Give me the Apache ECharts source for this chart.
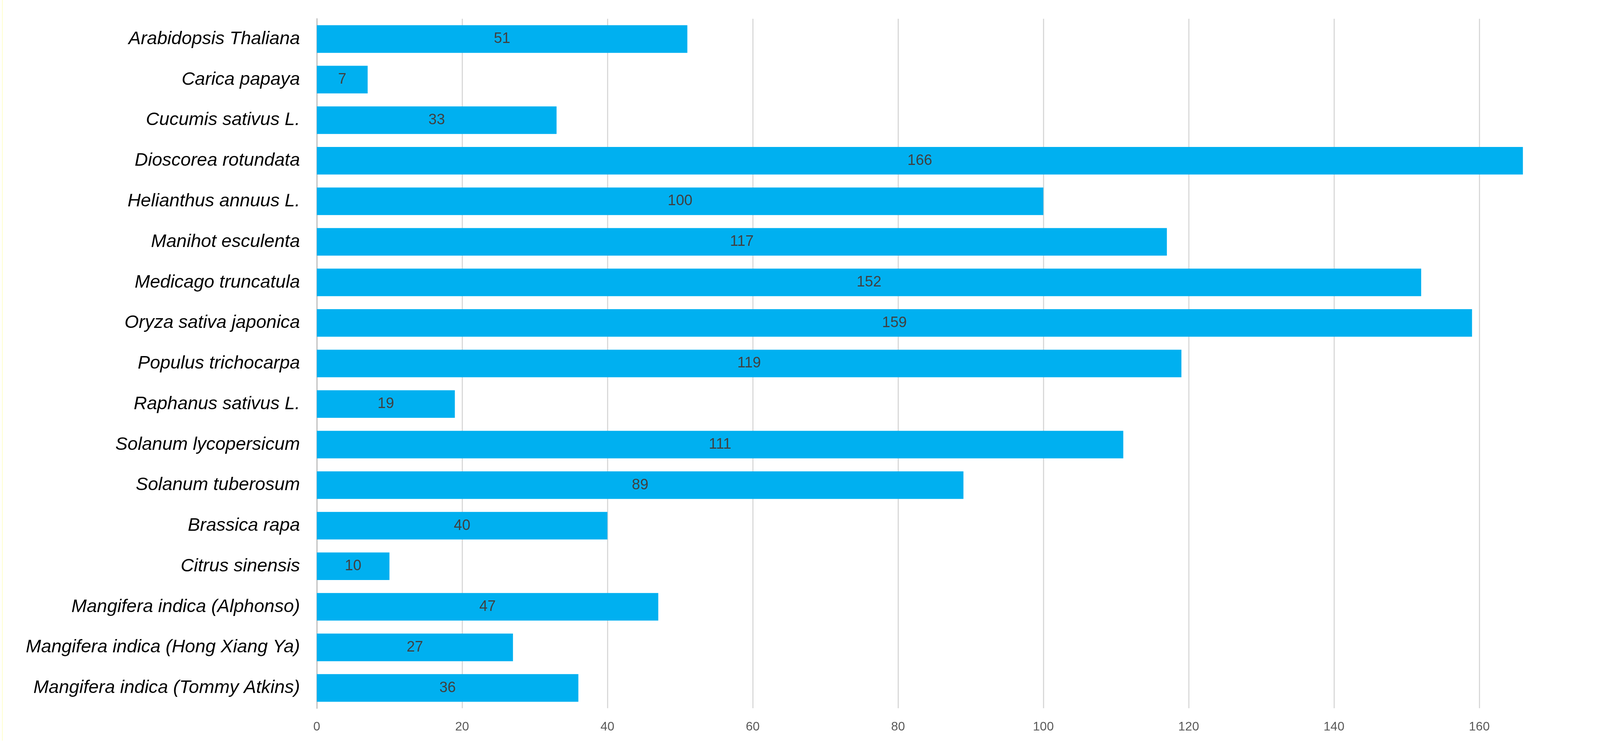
<!DOCTYPE html>
<html>
<head>
<meta charset="utf-8">
<script src="https://cdn.jsdelivr.net/npm/echarts@6/dist/echarts.min.js"></script>
<style>
html,body{margin:0;padding:0;background:#fff;}
#chart{width:4240px;height:1901px;}
</style>
</head>
<body>
<div id="chart"></div>
<script>
const categories = [
  "Arabidopsis Thaliana",
  "Carica papaya",
  "Cucumis sativus L.",
  "Dioscorea rotundata",
  "Helianthus annuus L.",
  "Manihot esculenta",
  "Medicago truncatula",
  "Oryza sativa japonica",
  "Populus trichocarpa",
  "Raphanus sativus L.",
  "Solanum lycopersicum",
  "Solanum tuberosum",
  "Brassica rapa",
  "Citrus sinensis",
  "Mangifera indica (Alphonso)",
  "Mangifera indica (Hong Xiang Ya)",
  "Mangifera indica (Tommy Atkins)"
];
const values = [51, 7, 33, 166, 100, 117, 152, 159, 119, 19, 111, 89, 40, 10, 47, 27, 36];
const xTicks = { min: 0, max: 180, interval: 20 };

const narrow = '"Liberation Sans Narrow", "Arial Narrow", "Liberation Sans", Arial, sans-serif';
const chart = echarts.init(document.getElementById('chart'));
chart.setOption({
  backgroundColor: '#ffffff',
  animation: false,
  graphic: [
    { type: 'line', shape: { x1: 6, y1: 0, x2: 6, y2: 1895 }, style: { stroke: '#ffffcc', lineWidth: 2 } },
    { type: 'line', shape: { x1: 4232, y1: 5, x2: 4232, y2: 1901 }, style: { stroke: '#ffff66', lineWidth: 2 } }
  ],
  grid: { left: 811, right: 81, top: 48, bottom: 89, containLabel: false },
  xAxis: {
    type: 'value',
    min: xTicks.min,
    max: xTicks.max,
    interval: xTicks.interval,
    axisLine: { show: false },
    axisTick: { show: false },
    splitLine: { show: true, lineStyle: { color: '#d9d9d9', width: 3 } },
    axisLabel: { color: '#595959', fontSize: 32, fontFamily: narrow, margin: 32 }
  },
  yAxis: {
    type: 'category',
    inverse: true,
    data: categories,
    axisLine: { show: true, lineStyle: { color: '#bfbfbf', width: 3 } },
    axisTick: { show: false },
    axisLabel: {
      color: '#000000',
      fontSize: 47,
      fontStyle: 'italic',
      fontFamily: '"Liberation Sans", Arial, sans-serif',
      margin: 43
    }
  },
  series: [{
    type: 'bar',
    data: values,
    barCategoryGap: '32%',
    itemStyle: { color: '#00b0f0' },
    label: {
      show: true,
      position: 'inside',
      color: '#404040',
      fontSize: 38,
      fontFamily: narrow
    }
  }]
});
</script>
</body>
</html>
